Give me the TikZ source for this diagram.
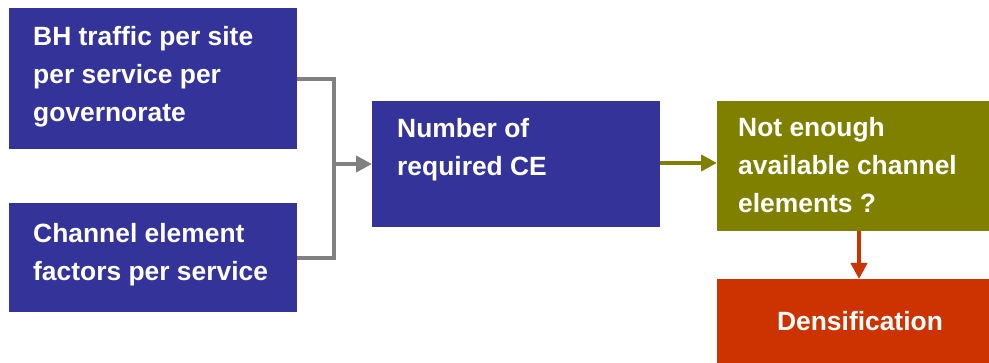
\documentclass[tikz,border=0pt]{standalone}
\usepackage{fontspec}
\setmainfont{Liberation Sans}
\usetikzlibrary{arrows.meta}
\definecolor{cblue}{HTML}{333399}
\definecolor{colive}{HTML}{808000}
\definecolor{cred}{HTML}{CC3300}
\definecolor{cgray}{HTML}{808080}
\tikzset{
  box/.style={draw=none, inner sep=0pt, anchor=north west},
  txt/.style={text=white, font=\fontsize{26.4}{38}\selectfont\bfseries, align=left, inner sep=0pt, anchor=west},
  conn/.style={line width=4pt, -{Triangle[length=16pt,width=16pt]}},
}
\begin{document}
\begin{tikzpicture}[x=1pt,y=-1pt]
\useasboundingbox (0,0) rectangle (989,363);
% boxes
\node[box, fill=cblue, minimum width=288pt, minimum height=141pt] (b1) at (9,8) {};
\node[box, fill=cblue, minimum width=288pt, minimum height=109pt] (b2) at (9,203) {};
\node[box, fill=cblue, minimum width=288pt, minimum height=126pt] (b3) at (372,101) {};
\node[box, fill=colive, minimum width=285pt, minimum height=130pt] (b4) at (717,101) {};
\node[box, fill=cred, minimum width=285pt, minimum height=90pt] (b5) at (717,279) {};
% texts
\node[txt] (t1) at (33,77) {BH traffic per site\\per service per\\governorate};
\node[txt] (t2) at (33,255) {Channel element\\factors per service};
\node[txt] (t3) at (397,150) {Number of\\required CE};
\node[txt] (t4) at (738,165) {Not enough\\available channel\\elements ?};
\node[txt, anchor=center] (t5) at (860,321) {Densification};
% connectors
\coordinate (j) at (334,164);
\draw[cgray, line width=4pt] (b1.east) -| (j) |- (b2.east);
\draw[cgray, conn] (j) -- (b3.west |- j);
\draw[colive, conn] (b3.east |- 0,163) -- (b4.west |- 0,163);
\draw[cred, conn] (b4.south -| 859,0) -- (b5.north -| 859,0);
\end{tikzpicture}
\end{document}
